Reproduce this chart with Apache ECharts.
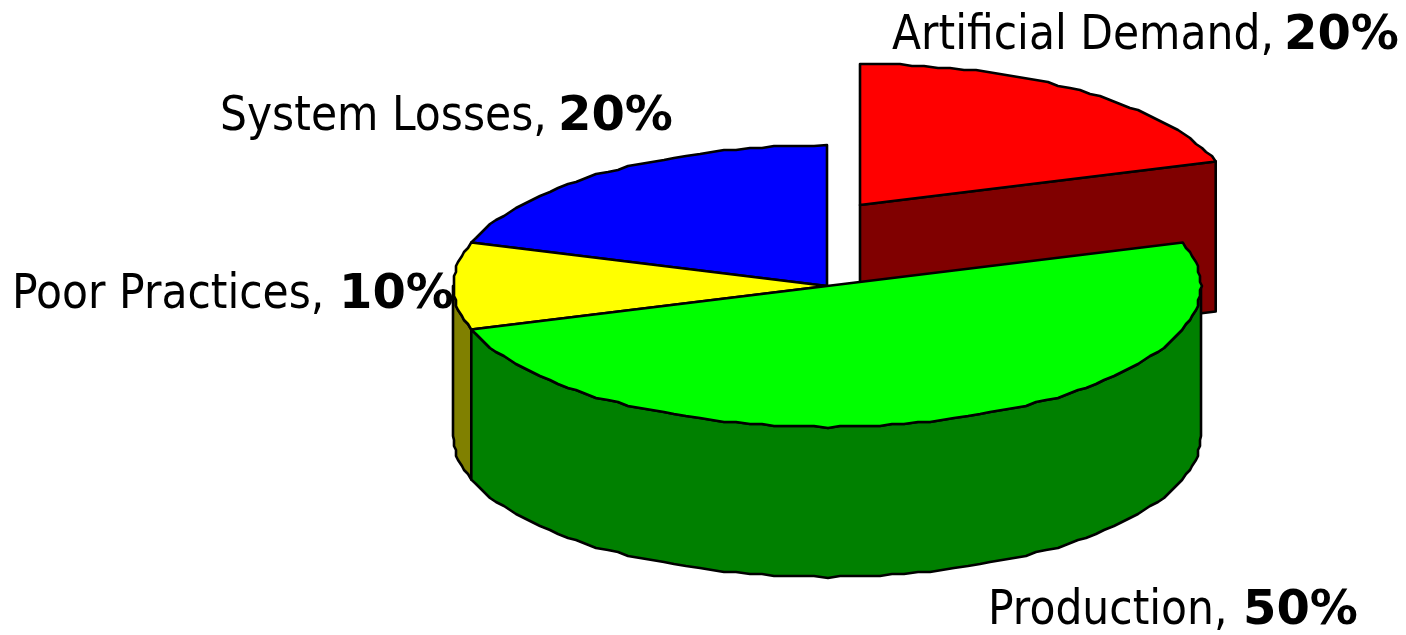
<!DOCTYPE html>
<html><head><meta charset="utf-8">
<style>html,body{margin:0;padding:0;background:#fff}#c{width:1406px;height:635px}</style>
<script src="https://cdn.jsdelivr.net/npm/echarts@6/dist/echarts.min.js"></script>
</head><body><div id="c"></div>
<script>
const categories = ['Artificial Demand','Production','Poor Practices','System Losses'];
const shares = [20,50,10,20];
const topColors = ['#FF0000','#00FF00','#FFFF00','#0000FF'];
const sideColors = ['#800000','#008000','#808000','#000080'];
const drawOrder = [0,3,2,1];
const explodeX = [33,0,0,0];
const explodeY = [-81,0,0,0];
const labelX = [892,988,12,220];
const boldX = [1284,1243,339,558];
const labelY = [37,612,296,118];

const CX=827, CY=286, RX=374, RY=141, DEPTH=150, GRID=2;
const total = shares.reduce((a,b)=>a+b,0);
const FONT = '"DejaVu Sans"';
const LINE = {stroke:'#000',lineWidth:2.6,lineJoin:'round'};

function pt(a,cx,cy){return [cx+RX*Math.sin(a), cy-RY*Math.cos(a)];}
function snap(p){return [Math.round(p[0]/GRID)*GRID, Math.round(p[1]/GRID)*GRID];}
function arc(a0,a1,cx,cy){
  const n=Math.max(2,Math.ceil((a1-a0)/(Math.PI/90)));
  const out=[];
  for(let i=0;i<=n;i++){
    const p=pt(a0+(a1-a0)*i/n,cx,cy);
    out.push(i===0||i===n?p:snap(p));
  }
  return out;
}
function renderItem(params,api){
  const i=params.dataIndex;
  const value=api.value(0);
  let before=0; for(let k=0;k<i;k++) before+=shares[k];
  const a0=before/total*2*Math.PI, a1=(before+value)/total*2*Math.PI;
  const cx=CX+explodeX[i], cy=CY+explodeY[i];
  const z=drawOrder.indexOf(i)*10;
  const children=[];
  if(i===0){
    const p=pt(a1,cx,cy);
    children.push({type:'polygon',z2:z,shape:{points:[[cx,cy],p,[p[0],p[1]+DEPTH],[cx,cy+DEPTH]]},style:{fill:sideColors[i],...LINE}});
  }
  const s0=Math.max(a0,Math.PI/2), s1=Math.min(a1,1.5*Math.PI);
  if(s1>s0){
    const top=arc(s0,s1,cx,cy);
    const bottom=top.map(p=>[p[0],p[1]+DEPTH]).reverse();
    children.push({type:'polygon',z2:z+1,shape:{points:top.concat(bottom)},style:{fill:sideColors[i],...LINE}});
  }
  const topPts=[[cx,cy]].concat(arc(a0,a1,cx,cy));
  children.push({type:'polygon',z2:z+2,shape:{points:topPts},style:{fill:topColors[i],...LINE}});
  children.push({type:'text',z2:100,x:labelX[i],y:labelY[i],scaleX:0.885,
    style:{x:0,y:0,verticalAlign:'middle',font:'48px '+FONT,fill:'#000',text:categories[i]+','}});
  children.push({type:'text',z2:100,x:boldX[i],y:labelY[i],scaleX:1.0,
    style:{x:0,y:0,verticalAlign:'middle',font:'bold 48px '+FONT,fill:'#000',text:value+'%'}});
  return {type:'group',children};
}
const chart=echarts.init(document.getElementById('c'),null,{renderer:'canvas'});
chart.setOption({animation:false,backgroundColor:'#fff',
  series:[{type:'custom',coordinateSystem:'none',renderItem,data:shares.map(v=>[v]),clip:false}]});
</script></body></html>
